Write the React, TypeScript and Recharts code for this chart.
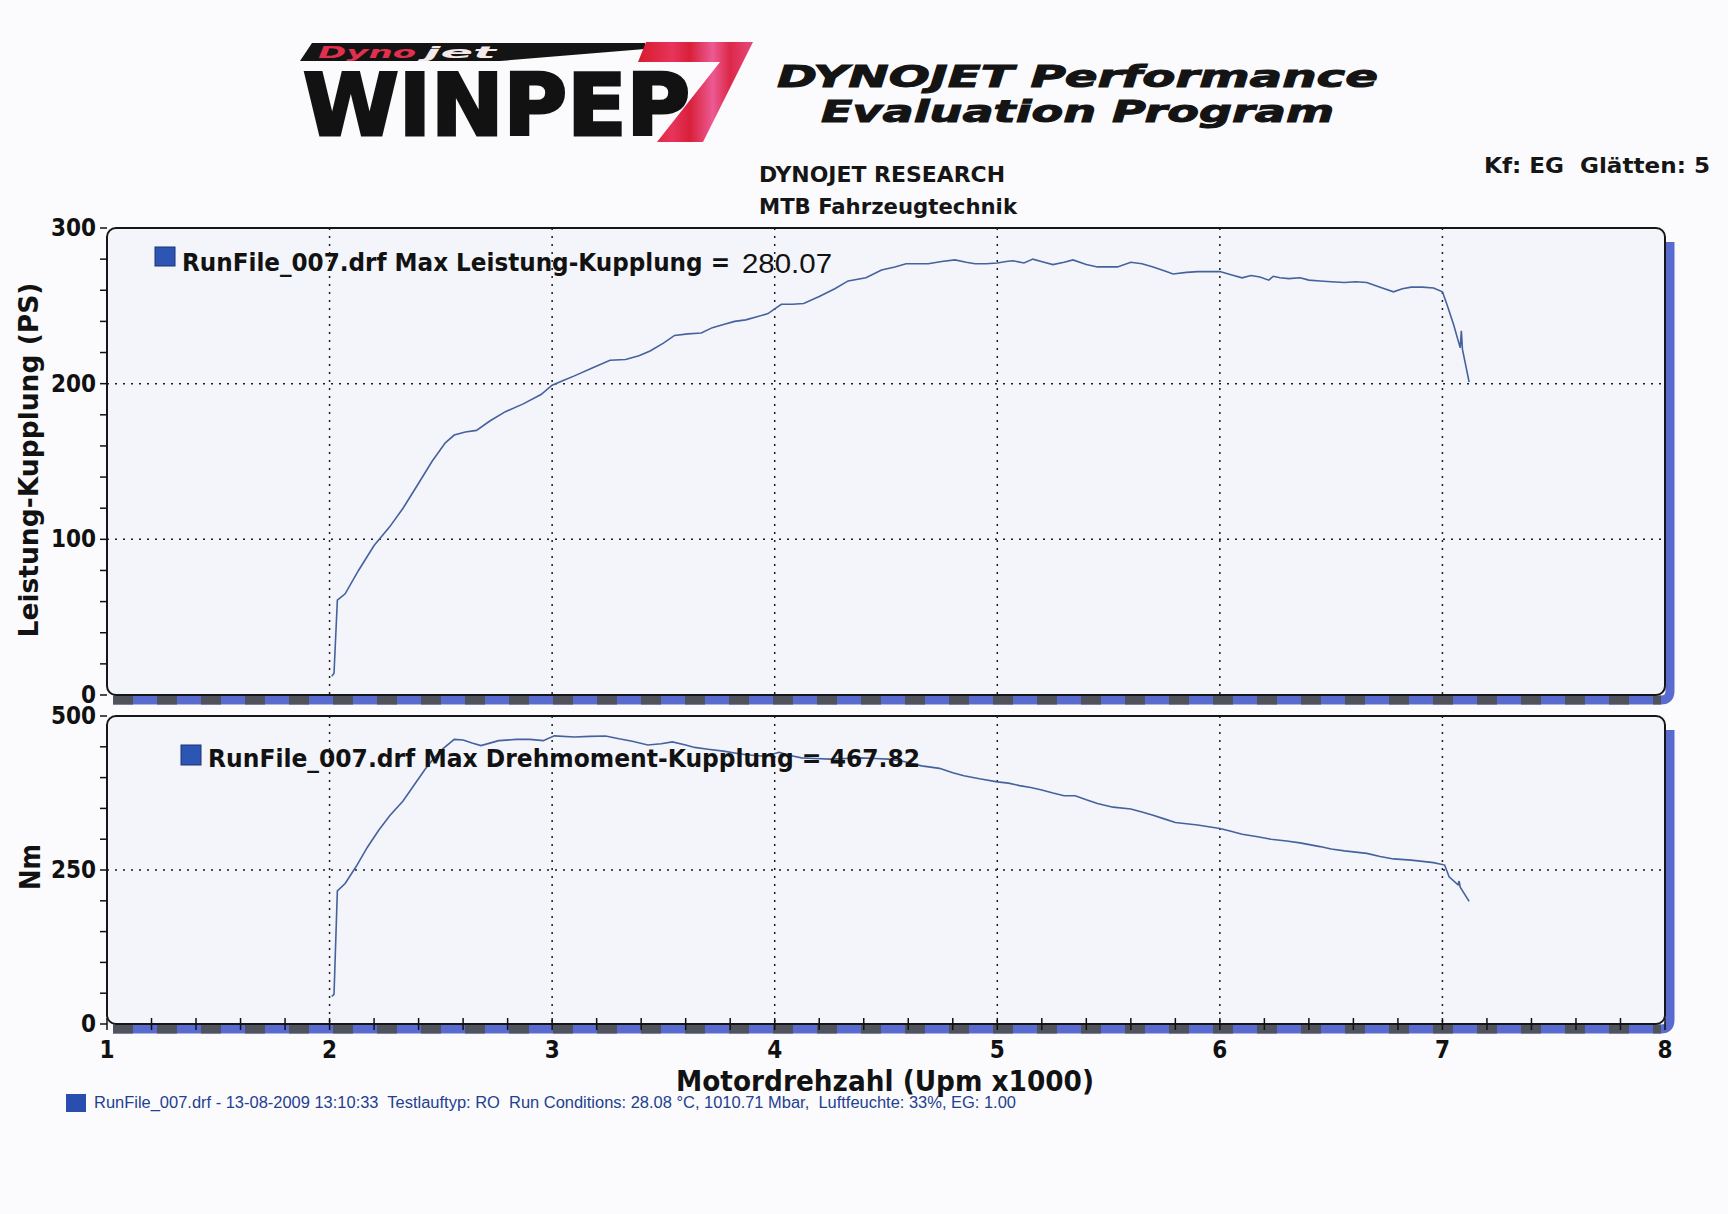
import React from "react";
import {
  LineChart,
  Line,
  XAxis,
  YAxis,
  CartesianGrid,
  ReferenceArea,
} from "recharts";

// Leistung (PS) over Motordrehzahl (x1000 U/min)
const powerRpm = [
  2.01, 2.02, 2.035, 2.07, 2.13, 2.2, 2.27, 2.33, 2.4, 2.46, 2.52, 2.56, 2.61,
  2.66, 2.72, 2.79, 2.87, 2.95, 3.0, 3.05, 3.1, 3.18, 3.26, 3.33, 3.39, 3.44,
  3.5, 3.55, 3.61, 3.67, 3.72, 3.77, 3.82, 3.87, 3.92, 3.97, 4.0, 4.03, 4.08,
  4.13, 4.2, 4.27, 4.33, 4.41, 4.48, 4.54, 4.59, 4.64, 4.69, 4.75, 4.81, 4.86,
  4.9, 4.95, 5.0, 5.04, 5.07, 5.12, 5.16, 5.21, 5.25, 5.3, 5.34, 5.4, 5.45, 5.5,
  5.54, 5.6, 5.65, 5.7, 5.75, 5.79, 5.85, 5.9, 5.95, 6.0, 6.05, 6.1, 6.14, 6.18,
  6.22, 6.24, 6.27, 6.31, 6.36, 6.4, 6.45, 6.5, 6.56, 6.61, 6.66, 6.72, 6.78,
  6.82, 6.86, 6.91, 6.96, 7.0, 7.02, 7.05, 7.08, 7.085, 7.09, 7.12,
];
const powerPs = [
  12, 14, 61, 65, 80, 96, 108, 120, 136, 150, 162, 167, 169, 170, 176, 182, 187,
  193, 199, 202, 205, 210, 215, 215.5, 218, 221, 226, 231, 232, 232.5, 236, 238,
  240, 241, 243, 245, 248, 251, 251, 251.5, 256, 261, 266, 268, 273, 275, 277,
  277, 277, 278.5, 279.5, 278, 277, 277, 277.5, 278.5, 279, 277.5, 280, 278,
  276.5, 278, 279.5, 276.5, 275, 275, 275, 278, 277, 275, 272.5, 270.5, 271.5,
  272, 272, 272, 270, 268, 269.5, 268.5, 266.5, 269, 268, 267.5, 268, 266.5, 266,
  265.5, 265, 265.5, 265, 262, 259, 261, 262, 262, 261.5, 259, 251, 238, 223,
  234, 222, 201,
];

// Drehmoment (Nm) over Motordrehzahl (x1000 U/min)
const torqueRpm = [
  2.01, 2.02, 2.035, 2.07, 2.12, 2.17, 2.22, 2.27, 2.33, 2.38, 2.43, 2.47, 2.51,
  2.56, 2.6, 2.64, 2.68, 2.72, 2.76, 2.84, 2.9, 2.96, 3.01, 3.1, 3.17, 3.24, 3.3,
  3.36, 3.43, 3.49, 3.54, 3.6, 3.64, 3.7, 3.77, 3.82, 3.87, 3.94, 3.98, 4.02,
  4.07, 4.12, 4.18, 4.25, 4.32, 4.38, 4.45, 4.51, 4.58, 4.66, 4.74, 4.8, 4.85,
  4.92, 5.0, 5.05, 5.1, 5.15, 5.2, 5.25, 5.3, 5.35, 5.4, 5.45, 5.52, 5.6, 5.65,
  5.7, 5.75, 5.8, 5.9, 6.0, 6.05, 6.1, 6.17, 6.23, 6.3, 6.36, 6.45, 6.5, 6.56,
  6.66, 6.72, 6.78, 6.86, 6.96, 7.01, 7.03, 7.07, 7.075, 7.08, 7.12,
];
const torqueNm = [
  45, 48, 216, 228, 256, 287, 314, 338, 362, 388, 414, 432, 447, 462, 461, 456,
  452, 456, 460, 462, 462, 460, 467.8, 466, 467, 467.5, 463, 459, 453, 455, 458,
  453, 449, 446, 443, 440, 437, 435, 437, 441, 436, 432, 431, 430, 431, 432, 431,
  430, 426, 419, 415, 408, 403, 398, 393, 391, 387, 384, 380, 375, 370.5, 370.5,
  364, 358, 352, 349, 344, 339, 333, 327, 323, 317.5, 313, 308, 304, 300, 297,
  294, 288, 284, 281, 277, 272, 268, 266, 262, 258, 239, 226, 232, 222, 199,
];

const psTicks = [0, 20, 40, 60, 80, 100, 120, 140, 160, 180, 200, 220, 240, 260, 280, 300];
const psLabels = [0, 100, 200, 300];
const psGrid = [100, 200];
const nmTicks = [0, 50, 100, 150, 200, 250, 300, 350, 400, 450, 500];
const nmLabels = [0, 250, 500];
const nmGrid = [250];
const rpmTicks = [
  1, 1.2, 1.4, 1.6, 1.8, 2, 2.2, 2.4, 2.6, 2.8, 3, 3.2, 3.4, 3.6, 3.8, 4, 4.2,
  4.4, 4.6, 4.8, 5, 5.2, 5.4, 5.6, 5.8, 6, 6.2, 6.4, 6.6, 6.8, 7, 7.2, 7.4, 7.6,
  7.8, 8,
];
const rpmLabels = [1, 2, 3, 4, 5, 6, 7, 8];
const rpmGrid = [2, 3, 4, 5, 6, 7];

const powerData = powerRpm.map((rpm, i) => ({ rpm, ps: powerPs[i] }));
const torqueData = torqueRpm.map((rpm, i) => ({ rpm, nm: torqueNm[i] }));

const LINE = "#44629d";
const BOLD = "'DejaVu Sans Condensed', 'DejaVu Sans', sans-serif";
const PAGE_BG = "#fbfbfe";
const PLOT_BG = "#f4f5fa";

const Frame = (props: any) => {
  const { x, y, width, height } = props;
  const right = x + width;
  const bottom = y + height;
  const shadow = `M ${x + 6} ${bottom + 5} H ${right - 4} Q ${right + 5} ${bottom + 5} ${right + 5} ${bottom - 4} V ${y + 14}`;
  return (
    <g>
      <path d={shadow} fill="none" stroke="#5a6bd0" strokeWidth={9} />
      <path
        d={`M ${x + 6} ${bottom + 5} H ${right - 4}`}
        fill="none"
        stroke="#50525c"
        strokeWidth={9}
        strokeDasharray="20 24"
      />
      <rect x={x} y={y} width={width} height={height} rx={9} fill="none" stroke="#161616" strokeWidth={2} />
    </g>
  );
};

const makeYTick = (labels: number[]) => (props: any) => {
  const { x, y, payload } = props;
  return (
    <g>
      <line x1={x - 7} x2={x} y1={y} y2={y} stroke="#111" strokeWidth={1.5} />
      {labels.includes(payload.value) && (
        <text
          x={x - 11}
          y={y + 8}
          textAnchor="end"
          fontFamily={BOLD}
          fontWeight={700}
          fontSize={24}
          fill="#111"
        >
          {payload.value}
        </text>
      )}
    </g>
  );
};

const XTick = (props: any) => {
  const { x, y, payload } = props;
  return (
    <g>
      <line x1={x} x2={x} y1={y - 6} y2={y + 6} stroke="#111" strokeWidth={1.5} />
      {rpmLabels.includes(payload.value) && (
        <text
          x={x}
          y={y + 34}
          textAnchor="middle"
          fontFamily={BOLD}
          fontWeight={700}
          fontSize={24}
          fill="#111"
        >
          {payload.value}
        </text>
      )}
    </g>
  );
};

export default function App() {
  return (
    <div
      style={{
        position: "absolute",
        left: 0,
        top: 0,
        width: 1728,
        height: 1214,
        background: PAGE_BG,
        overflow: "hidden",
      }}
    >
      {/* Leistung */}
      <div style={{ position: "absolute", left: 0, top: 0 }}>
        <LineChart
          width={1728}
          height={712}
          data={powerData}
          margin={{ top: 228, right: 63, bottom: 17, left: 47 }}
        >
          <CartesianGrid
            fill={PLOT_BG}
            stroke="#1a1a1a"
            strokeWidth={1.5}
            strokeDasharray="2 6"
            horizontalValues={psGrid}
            verticalValues={rpmGrid}
          />
          <XAxis dataKey="rpm" type="number" domain={[1, 8]} ticks={rpmTicks} hide />
          <YAxis
            type="number"
            domain={[0, 300]}
            ticks={psTicks}
            interval={0}
            width={60}
            axisLine={false}
            tickLine={false}
            tickSize={0}
            tickMargin={0}
            tick={makeYTick(psLabels)}
          />
          <ReferenceArea x1={1} x2={8} y1={0} y2={300} ifOverflow="visible" shape={Frame} />
          <Line
            dataKey="ps"
            type="linear"
            stroke={LINE}
            strokeWidth={1.6}
            dot={false}
            isAnimationActive={false}
          />
        </LineChart>
      </div>

      {/* Drehmoment */}
      <div style={{ position: "absolute", left: 0, top: 700 }}>
        <LineChart
          width={1728}
          height={514}
          data={torqueData}
          margin={{ top: 16, right: 63, bottom: 150, left: 47 }}
        >
          <CartesianGrid
            fill={PLOT_BG}
            stroke="#1a1a1a"
            strokeWidth={1.5}
            strokeDasharray="2 6"
            horizontalValues={nmGrid}
            verticalValues={rpmGrid}
          />
          <XAxis
            dataKey="rpm"
            type="number"
            domain={[1, 8]}
            ticks={rpmTicks}
            interval={0}
            height={40}
            axisLine={false}
            tickLine={false}
            tickSize={0}
            tickMargin={0}
            tick={<XTick />}
          />
          <YAxis
            type="number"
            domain={[0, 500]}
            ticks={nmTicks}
            interval={0}
            width={60}
            axisLine={false}
            tickLine={false}
            tickSize={0}
            tickMargin={0}
            tick={makeYTick(nmLabels)}
          />
          <ReferenceArea x1={1} x2={8} y1={0} y2={500} ifOverflow="visible" shape={Frame} />
          <Line
            dataKey="nm"
            type="linear"
            stroke={LINE}
            strokeWidth={1.6}
            dot={false}
            isAnimationActive={false}
          />
        </LineChart>
      </div>

      {/* texts and header */}
      <svg
        width={1728}
        height={1214}
        style={{ position: "absolute", left: 0, top: 0, pointerEvents: "none" }}
      >
        <defs>
          <linearGradient id="seven" x1="0" x2="1" y1="0" y2="0">
            <stop offset="0" stopColor="#d81c2c" />
            <stop offset="0.3" stopColor="#e8345a" />
            <stop offset="0.45" stopColor="#d8203a" />
            <stop offset="0.65" stopColor="#ec5a92" />
            <stop offset="0.8" stopColor="#dc2848" />
            <stop offset="1" stopColor="#e54a7c" />
          </linearGradient>
        </defs>

        {/* WINPEP 7 logo */}
        <polygon points="300,61 312,43 645,43 645,49 500,61" fill="#141414" />
        <text
          x={318}
          y={58}
          textLength={98}
          lengthAdjust="spacingAndGlyphs"
          fontFamily="'DejaVu Sans', sans-serif"
          fontWeight={700}
          fontStyle="italic"
          fontSize={16}
          fill="#e0304e"
        >
          Dyno
        </text>
        <text
          x={424}
          y={58}
          textLength={72}
          lengthAdjust="spacingAndGlyphs"
          fontFamily="'DejaVu Sans', sans-serif"
          fontWeight={700}
          fontStyle="italic"
          fontSize={16}
          fill="#f3e8ea"
        >
          jet
        </text>
        <polygon points="646,42 753,42 703,142 657,142 720,62 638,62" fill="url(#seven)" />
        <text
          x={303}
          y={135}
          textLength={387}
          lengthAdjust="spacingAndGlyphs"
          fontFamily="'DejaVu Sans', sans-serif"
          fontWeight={700}
          fontSize={86}
          fill="#121212"
          stroke="#121212"
          strokeWidth={3}
        >
          WINPEP
        </text>

        <text
          x={777}
          y={87}
          textLength={601}
          lengthAdjust="spacingAndGlyphs"
          fontFamily="'DejaVu Sans', sans-serif"
          fontWeight={700}
          fontStyle="italic"
          fontSize={30}
          fill="#141414"
          stroke="#141414"
          strokeWidth={1}
        >
          DYNOJET Performance
        </text>
        <text
          x={821}
          y={122}
          textLength={513}
          lengthAdjust="spacingAndGlyphs"
          fontFamily="'DejaVu Sans', sans-serif"
          fontWeight={700}
          fontStyle="italic"
          fontSize={30}
          fill="#141414"
          stroke="#141414"
          strokeWidth={1}
        >
          Evaluation Program
        </text>

        <text x={759} y={182} textLength={246} lengthAdjust="spacingAndGlyphs" fontFamily={BOLD} fontWeight={700} fontSize={22} fill="#161616">
          DYNOJET RESEARCH
        </text>
        <text x={759} y={214} textLength={258} lengthAdjust="spacingAndGlyphs" fontFamily={BOLD} fontWeight={700} fontSize={22} fill="#161616">
          MTB Fahrzeugtechnik
        </text>
        <text
          x={1484}
          y={173}
          textLength={226}
          lengthAdjust="spacingAndGlyphs"
          fontFamily={BOLD}
          fontWeight={700}
          fontSize={22}
          fill="#161616"
          style={{ whiteSpace: "pre" }}
        >
          {"Kf: EG  Glätten: 5"}
        </text>

        {/* series captions */}
        <rect x={155} y={247} width={20} height={19} fill="#2d55b4" stroke="#1c3272" strokeWidth={1} />
        <text x={182} y={271} textLength={548} lengthAdjust="spacingAndGlyphs" fontFamily={BOLD} fontWeight={700} fontSize={25} fill="#121212">
          RunFile_007.drf Max Leistung-Kupplung =
        </text>
        <text x={742} y={273} textLength={90} lengthAdjust="spacingAndGlyphs" fontFamily="'Liberation Sans', Arial, sans-serif" fontSize={28} fill="#121212">
          280.07
        </text>

        <rect x={181} y={745} width={20} height={20} fill="#2d55b4" stroke="#1c3272" strokeWidth={1} />
        <text x={208} y={767} textLength={712} lengthAdjust="spacingAndGlyphs" fontFamily={BOLD} fontWeight={700} fontSize={25} fill="#121212">
          RunFile_007.drf Max Drehmoment-Kupplung = 467.82
        </text>

        {/* axis titles */}
        <text
          x={38}
          y={460}
          transform="rotate(-90 38 460)"
          textAnchor="middle"
          textLength={355}
          lengthAdjust="spacingAndGlyphs"
          fontFamily="'DejaVu Sans', sans-serif"
          fontWeight={700}
          fontSize={26}
          fill="#121212"
        >
          Leistung-Kupplung (PS)
        </text>
        <text
          x={40}
          y={867}
          transform="rotate(-90 40 867)"
          textAnchor="middle"
          textLength={46}
          lengthAdjust="spacingAndGlyphs"
          fontFamily="'DejaVu Sans', sans-serif"
          fontWeight={700}
          fontSize={28}
          fill="#121212"
        >
          Nm
        </text>
        <text
          x={885}
          y={1091}
          textAnchor="middle"
          textLength={418}
          lengthAdjust="spacingAndGlyphs"
          fontFamily={BOLD}
          fontWeight={700}
          fontSize={28}
          fill="#121212"
        >
          Motordrehzahl (Upm x1000)
        </text>

        {/* run info */}
        <rect x={66} y={1094} width={20} height={18} fill="#2a4db0" />
        <text
          x={94}
          y={1108}
          textLength={922}
          lengthAdjust="spacingAndGlyphs"
          fontFamily="'Liberation Sans', Arial, sans-serif"
          fontSize={16}
          fill="#22408f"
          style={{ whiteSpace: "pre" }}
        >
          {"RunFile_007.drf - 13-08-2009 13:10:33  Testlauftyp: RO  Run Conditions: 28.08 °C, 1010.71 Mbar,  Luftfeuchte: 33%, EG: 1.00"}
        </text>
      </svg>
    </div>
  );
}
